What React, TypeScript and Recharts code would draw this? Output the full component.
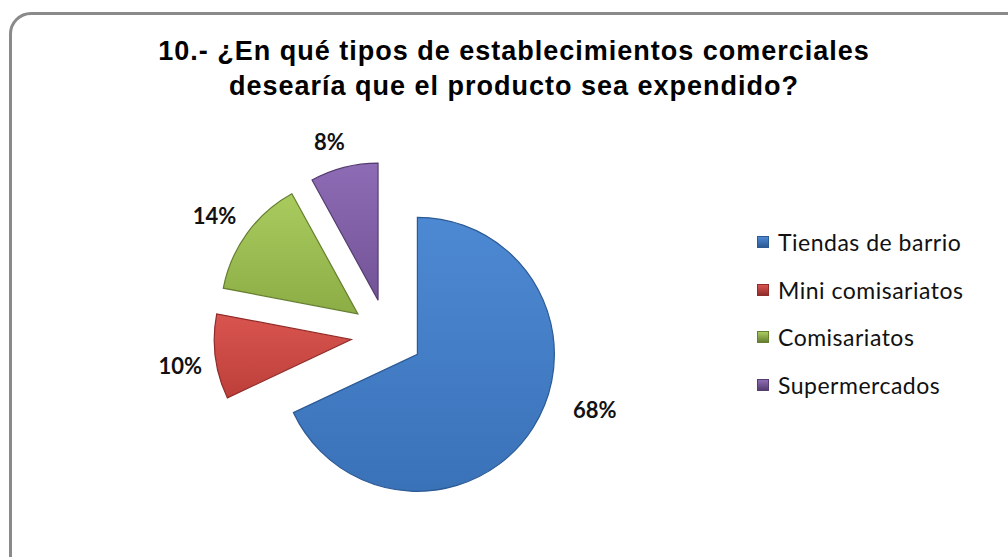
import React from 'react';
import { PieChart, Pie, Cell, Legend } from 'recharts';

const CATEGORIES = ['Tiendas de barrio', 'Mini comisariatos', 'Comisariatos', 'Supermercados'];
const PERCENTS = [68, 10, 14, 8];

const COLORS = [
  ['#4d89d3', '#3a72b8', '#2c5a94'],
  ['#d9554f', '#bd3f3a', '#8f2c29'],
  ['#a9cb5e', '#8cad45', '#667f30'],
  ['#8e6cb5', '#735397', '#553d70'],
];

const W = 1008;
const H = 557;
const ORIGIN_X = 387;
const ORIGIN_Y = 335;
const RADIUS = 137;
const EXPLODE = 36;
// label placement around each exploded slice (Excel "best fit")
const LABEL_ANGLE_NUDGE = [15, 1.4, 1.5, 2.6];
const LABEL_RADIUS = [186, 173, 174, 166];

const data = CATEGORIES.map((name, i) => ({ name, value: PERCENTS[i] }));
const total = PERCENTS.reduce((a, b) => a + b, 0);

// mid angle of each slice (degrees, recharts convention: 90 = top, clockwise = decreasing)
const midAngles = PERCENTS.map((v, i) => {
  const before = PERCENTS.slice(0, i).reduce((a, b) => a + b, 0);
  return 90 - ((before + v / 2) / total) * 360;
});

const RAD = Math.PI / 180;

const renderLegend = () => (
  <div style={{ fontFamily: 'Lato, sans-serif', fontSize: 23, letterSpacing: 0.5, color: '#111' }}>
    {CATEGORIES.map((c, i) => (
      <div key={c} style={{ display: 'flex', alignItems: 'center', height: 47.7 }}>
        <div
          style={{
            width: 12,
            height: 12,
            marginRight: 9,
            background: `linear-gradient(${COLORS[i][0]}, ${COLORS[i][2]})`,
            border: `1px solid ${COLORS[i][2]}`,
            boxSizing: 'border-box',
          }}
        />
        <span>{c}</span>
      </div>
    ))}
  </div>
);

export default function App() {
  return (
    <div style={{ position: 'absolute', left: 0, top: 0, width: W, height: H, background: '#fff', overflow: 'hidden' }}>
      <div
        style={{
          position: 'absolute',
          left: 9,
          top: 12,
          width: 1040,
          height: 580,
          border: '3.5px solid #8a8a8a',
          borderRadius: 22,
          boxSizing: 'border-box',
        }}
      />
      <div
        style={{
          position: 'absolute',
          left: 14,
          width: 1000,
          top: 34,
          textAlign: 'center',
          fontFamily: '"Liberation Sans", Arial, sans-serif',
          fontWeight: 'bold',
          fontSize: 27,
          letterSpacing: 1,
          lineHeight: '35px',
          color: '#000',
        }}
      >
        10.- ¿En qué tipos de establecimientos comerciales
        <br />
        desearía que el producto sea expendido?
      </div>
      <div style={{ position: 'absolute', left: 0, top: 0 }}>
        <PieChart width={W} height={H} margin={{ top: 0, right: 0, bottom: 0, left: 0 }}>
          <defs>
            {COLORS.map((c, i) => (
              <linearGradient key={i} id={`slice-${i}`} x1="0" y1="0" x2="0" y2="1">
                <stop offset="0%" stopColor={c[0]} />
                <stop offset="100%" stopColor={c[1]} />
              </linearGradient>
            ))}
          </defs>
          {data.map((_, i) => (
            <Pie
              key={i}
              data={data}
              dataKey="value"
              nameKey="name"
              cx={ORIGIN_X + EXPLODE * Math.cos(midAngles[i] * RAD)}
              cy={ORIGIN_Y - EXPLODE * Math.sin(midAngles[i] * RAD)}
              outerRadius={RADIUS}
              startAngle={90}
              endAngle={-270}
              isAnimationActive={false}
              labelLine={false}
              legendType="none"
              label={(p: any) => {
                if (p.index !== i) return <g />;
                const a = (p.midAngle + LABEL_ANGLE_NUDGE[i]) * RAD;
                const x = p.cx + LABEL_RADIUS[i] * Math.cos(a);
                const y = p.cy - LABEL_RADIUS[i] * Math.sin(a);
                return (
                  <text
                    x={x}
                    y={y}
                    textAnchor="middle"
                    dominantBaseline="central"
                    fontFamily="Lato, sans-serif"
                    fontWeight={700}
                    fontSize={22}
                    fill="#111"
                  >
                    {`${PERCENTS[i]}%`}
                  </text>
                );
              }}
            >
              {data.map((d, j) => (
                <Cell
                  key={d.name}
                  fill={j === i ? `url(#slice-${i})` : 'transparent'}
                  stroke={j === i ? COLORS[i][2] : 'none'}
                  strokeWidth={j === i ? 1.2 : 0}
                />
              ))}
            </Pie>
          ))}
          <Legend
            layout="vertical"
            content={renderLegend}
            wrapperStyle={{ left: 757, top: 218, width: 250 }}
          />
        </PieChart>
      </div>
    </div>
  );
}
